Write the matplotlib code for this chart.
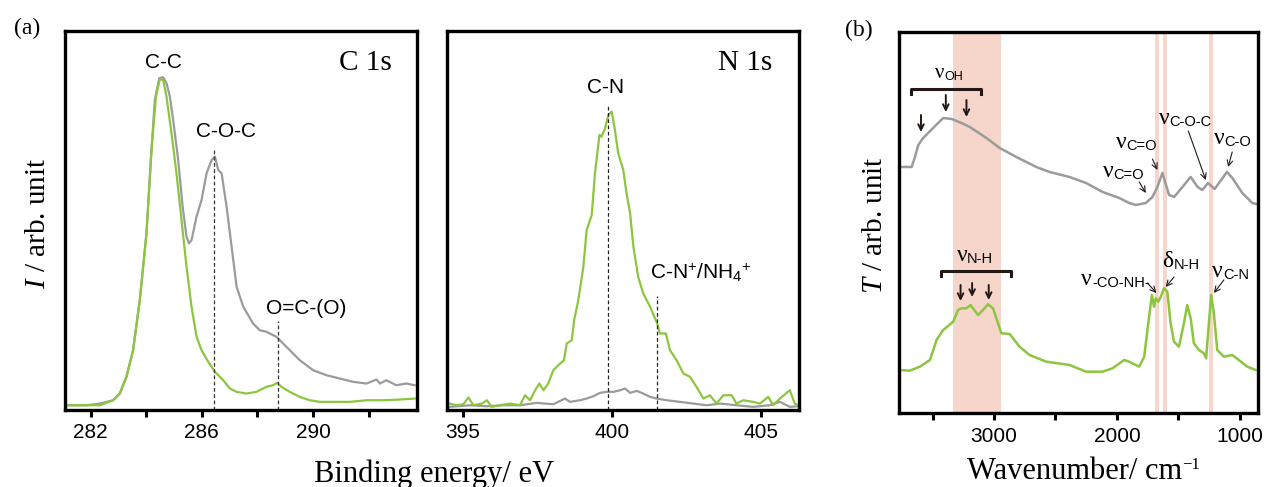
import matplotlib
matplotlib.use('Agg')
from matplotlib import pyplot as plt

plt.rcParams['font.family'] = ['Liberation Sans', 'DejaVu Sans']
plt.rcParams['mathtext.fontset'] = 'custom'
plt.rcParams['mathtext.rm'] = 'Liberation Serif'
plt.rcParams['mathtext.it'] = 'Liberation Serif:italic'
plt.rcParams['mathtext.sf'] = 'Liberation Sans'

GREEN = '#8cc63f'
GRAY = '#9b9b9b'
BAND = '#f6d6ca'
SERIF = 'Liberation Serif'

# ---- C 1s XPS (binding energy, arbitrary intensity) ----
c1s_ev_gray = [281.20, 281.86, 282.34, 282.81, 283.05, 283.29, 283.53, 283.77, 284.01, 284.19,
               284.31, 284.47, 284.61, 284.73, 284.85, 284.97, 285.15, 285.31, 285.45, 285.54,
               285.63, 285.81, 285.99, 286.17, 286.35, 286.47, 286.59, 286.71, 286.89, 287.07,
               287.25, 287.49, 287.84, 288.08, 288.32, 288.68, 289.04, 289.52, 290.00, 290.48,
               290.96, 291.44, 291.92, 292.28, 292.40, 292.63, 292.99, 293.35, 293.65]
c1s_int_gray = [4.3, 4.3, 6.0, 9.3, 16.0, 32.7, 59.3, 109.3, 176.0, 259.3,
                309.3, 331.0, 332.0, 326.0, 312.7, 289.3, 249.3, 202.7, 172.7, 166.0,
                169.3, 192.7, 209.3, 236.0, 249.3, 252.7, 239.3, 236.0, 202.7, 162.7,
                122.7, 102.7, 86.0, 79.3, 77.7, 72.7, 62.7, 49.3, 39.3, 34.3,
                31.0, 27.7, 26.0, 30.0, 26.0, 29.3, 24.3, 26.0, 24.3]
c1s_ev_green = [281.20, 282.34, 282.81, 283.05, 283.29, 283.53, 283.77, 284.01, 284.19, 284.35,
                284.49, 284.61, 284.73, 284.91, 285.09, 285.27, 285.45, 285.63, 285.81, 285.99,
                286.23, 286.47, 286.77, 287.01, 287.25, 287.60, 287.96, 288.32, 288.56, 288.71,
                288.86, 289.16, 289.52, 289.88, 290.24, 290.72, 291.32, 291.92, 292.51, 293.11,
                293.65]
c1s_int_green = [4.3, 4.3, 9.3, 16.0, 32.7, 59.3, 109.3, 176.0, 259.3, 312.7,
                 330.0, 329.3, 312.7, 276.0, 236.0, 189.3, 142.7, 102.7, 72.7, 59.3,
                 47.7, 37.7, 29.3, 21.0, 17.7, 16.0, 17.7, 22.7, 24.3, 26.7,
                 22.7, 17.7, 12.7, 9.3, 7.7, 7.7, 7.7, 9.3, 9.3, 10.0,
                 11.0]

# ---- N 1s XPS ----
n1s_ev_green = [394.55, 394.80, 395.02, 395.19, 395.36, 395.64, 395.81, 395.97, 396.25, 396.59,
                396.92, 397.09, 397.26, 397.43, 397.57, 397.71, 397.87, 398.04, 398.27, 398.40,
                398.49, 398.66, 398.74, 398.88, 399.05, 399.16, 399.33, 399.44, 399.59, 399.66,
                399.78, 399.89, 400.00, 400.11, 400.22, 400.39, 400.50, 400.62, 400.73, 400.89,
                401.06, 401.29, 401.53, 401.62, 401.82, 401.96, 402.18, 402.41, 402.63, 402.85,
                403.08, 403.30, 403.52, 403.75, 404.03, 404.19, 404.42, 404.75, 404.98, 405.26,
                405.42, 405.65, 405.98, 406.15, 406.26]
n1s_int_green = [6.0, 4.3, 5.3, 12.0, 4.3, 6.0, 9.3, 2.7, 4.3, 6.0,
                 4.3, 14.3, 9.3, 19.3, 26.0, 19.3, 26.0, 39.3, 46.0, 49.3,
                 66.0, 69.3, 89.3, 109.3, 142.7, 179.3, 194.3, 236.0, 274.3, 272.7,
                 281.0, 294.3, 297.7, 279.3, 256.0, 239.3, 216.0, 196.0, 162.7, 132.7,
                 116.0, 102.7, 86.0, 76.0, 76.0, 59.3, 49.3, 36.0, 32.7, 22.7,
                 11.0, 14.3, 6.0, 14.3, 14.3, 6.0, 9.3, 7.7, 6.0, 12.7,
                 4.3, 11.0, 19.3, 6.0, 4.3]
n1s_ev_gray = [394.55, 395.25, 395.81, 396.36, 396.92, 397.48, 398.04, 398.43, 398.60, 398.94,
               399.16, 399.38, 399.61, 399.83, 400.06, 400.28, 400.45, 400.62, 400.84, 401.06,
               401.29, 401.51, 401.85, 402.29, 402.74, 403.19, 403.64, 404.19, 404.75, 405.31,
               405.65, 405.98, 406.26]
n1s_int_gray = [2.7, 4.3, 3.3, 4.3, 4.3, 6.7, 5.3, 11.0, 7.7, 9.3,
                11.0, 13.3, 16.7, 17.7, 17.7, 19.3, 21.0, 16.7, 18.7, 16.0,
                12.7, 11.0, 9.3, 7.7, 6.0, 4.3, 6.0, 4.3, 2.7, 4.3,
                7.7, 2.7, 3.3]

# ---- FTIR ----
ir_wn_gray = [3765, 3670, 3643, 3616, 3576, 3495, 3413, 3345, 3264, 3197,
              3062, 2954, 2818, 2656, 2548, 2386, 2251, 2116, 1981, 1900,
              1846, 1765, 1711, 1671, 1630, 1576, 1535, 1494, 1440, 1400,
              1343, 1305, 1259, 1205, 1105, 1061, 980, 899, 863]
ir_t_gray = [246, 246, 256, 268, 275, 285, 295, 294, 290, 286,
             275, 265, 256, 246, 241, 236, 230, 221, 215, 210,
             208, 210, 216, 226, 240, 218, 216, 222, 230, 236,
             226, 223, 230, 224, 241, 235, 220, 210, 209]
ir_wn_green = [3765, 3684, 3603, 3521, 3467, 3413, 3332, 3292, 3264, 3224,
               3191, 3130, 3089, 3049, 3008, 2940, 2873, 2792, 2711, 2575,
               2386, 2251, 2116, 2036, 1941, 1900, 1819, 1778, 1738, 1716,
               1698, 1684, 1663, 1643, 1617, 1590, 1563, 1536, 1495, 1455,
               1428, 1400, 1374, 1333, 1293, 1274, 1252, 1233, 1211, 1184,
               1130, 1062, 1008, 940, 872]
ir_t_green = [43, 42.3, 46.3, 53, 73, 83, 91.3, 103, 104.7, 104.7,
              108, 98, 103, 108.7, 104.7, 79.7, 79, 66.3, 58, 51.3,
              48, 41.3, 41.3, 44.7, 53, 51.3, 46.3, 56.3, 96.3, 118,
              106.3, 114.7, 111.3, 116.3, 124.7, 121.3, 89.7, 71.3, 66.3, 89.7,
              108, 94.7, 69.7, 63, 59.7, 54.7, 89.7, 118, 99.7, 63,
              56.3, 58, 53, 46.3, 43]
ir_bands = [(3332, 2940), (1690, 1657), (1625, 1592), (1252, 1219)]


def style_axis(ax, xlim, ylim, ticks, labels):
    ax.set_xlim(*xlim)
    ax.set_ylim(*ylim)
    ax.set_yticks([])
    ax.set_xticks(ticks)
    ax.set_xticklabels(labels)
    for s in ax.spines.values():
        s.set_linewidth(2.4)
    ax.tick_params(axis='x', direction='out', length=5, width=2.2, labelsize=15, pad=5)


# serif nu / delta followed by a sans subscript
def nu_label(ax, x, y, sym, sub, size=17, subsize=10.5):
    t = ax.text(x, y, sym, fontsize=size, family=SERIF, ha='left', va='baseline')
    ax.annotate(sub, xy=(1, 0), xycoords=t, fontsize=subsize, ha='left', va='bottom')


def arrow(ax, start, end, lw=0.8):
    ax.annotate('', xy=end, xytext=start,
                arrowprops=dict(arrowstyle='->', lw=lw, color='#231815',
                                shrinkA=0, shrinkB=0, mutation_scale=10))


fig = plt.figure(figsize=(12.66, 4.87), dpi=100)

# C 1s
ax1 = fig.add_axes([0.0513, 0.159, 0.278, 0.777])
ax1.plot(c1s_ev_gray, c1s_int_gray, color=GRAY, lw=1.6)
ax1.plot(c1s_ev_green, c1s_int_green, color=GREEN, lw=1.6)
ax1.plot([286.42, 286.42], [0, 261], ls=(0, (3, 2)), color='#333333', lw=0.9)
ax1.plot([288.72, 288.72], [0, 88], ls=(0, (3, 2)), color='#333333', lw=0.9)
ax1.text(284.61, 347, 'C-C', fontsize=15, ha='center', va='center')
ax1.text(286.86, 278, 'C-O-C', fontsize=15, ha='center', va='center')
ax1.text(289.74, 101, 'O=C-(O)', fontsize=15, ha='center', va='center')
ax1.text(291.89, 346, 'C 1s', fontsize=21, family=SERIF, ha='center', va='center')
style_axis(ax1, (281.08, 293.73), (0, 378), [282, 284, 286, 288, 290, 292],
           ['282', '', '286', '', '290', ''])

# N 1s
ax2 = fig.add_axes([0.3533, 0.159, 0.2778, 0.777])
ax2.plot(n1s_ev_gray, n1s_int_gray, color=GRAY, lw=1.6)
ax2.plot(n1s_ev_green, n1s_int_green, color=GREEN, lw=1.6)
ax2.plot([399.87, 399.87], [0, 303], ls=(0, (3, 2)), color='#222222', lw=0.9)
ax2.plot([401.53, 401.53], [0, 113], ls=(0, (3, 2)), color='#222222', lw=0.9)
ax2.text(399.81, 322, 'C-N', fontsize=15, ha='center', va='center')
ax2.text(403.0, 137, 'C-N$^{\\mathsf{+}}$/NH$_{\\mathsf{4}}$$^{\\mathsf{+}}$', fontsize=15,
         ha='center', va='center')
ax2.text(404.47, 346, 'N 1s', fontsize=21, family=SERIF, ha='center', va='center')
style_axis(ax2, (394.48, 406.29), (0, 378), [395, 400, 405], ['395', '400', '405'])

# FTIR
ax3 = fig.add_axes([0.7101, 0.152, 0.2836, 0.7823])
for hi, lo in ir_bands:
    ax3.axvspan(lo, hi, color=BAND, lw=0, zorder=0)
ax3.plot(ir_wn_gray, ir_t_gray, color=GRAY, lw=1.8)
ax3.plot(ir_wn_green, ir_t_green, color=GREEN, lw=1.8)
style_axis(ax3, (3773, 852), (0, 381), [3500, 3000, 2500, 2000, 1500, 1000],
           ['', '3000', '', '2000', '', '1000'])

# brackets and arrows
ax3.plot([3678, 3678, 3102, 3102], [319, 324, 324, 319], color='#231815', lw=2.2)
ax3.plot([3435, 3435, 2865, 2865], [137, 142, 142, 137], color='#231815', lw=2.2)
for x, y0, y1 in [(3594, 298, 281), (3392, 318, 301), (3224, 313, 296),
                  (3272, 128, 112), (3178, 130, 116), (3043, 128, 113)]:
    arrow(ax3, (x, y0), (x, y1), lw=1.4)

nu_label(ax3, 3481, 335, 'ν', 'OH', size=15, subsize=9)
nu_label(ax3, 2008, 265, 'ν', 'C=O')
nu_label(ax3, 2116, 236, 'ν', 'C=O')
nu_label(ax3, 1657, 289, 'ν', 'C-O-C')
nu_label(ax3, 1211, 269, 'ν', 'C-O')
nu_label(ax3, 3305, 152, 'ν', 'N-H')
nu_label(ax3, 2290, 128, 'ν', '-CO-NH-')
nu_label(ax3, 1630, 146, 'δ', 'N-H')
nu_label(ax3, 1225, 136, 'ν', 'C-N')

arrow(ax3, (1711, 254), (1671, 243))
arrow(ax3, (1819, 231), (1765, 220))
arrow(ax3, (1419, 282), (1277, 233))
arrow(ax3, (1062, 261), (1095, 246))
arrow(ax3, (1752, 130), (1679, 120))
arrow(ax3, (1535, 136), (1603, 126))
arrow(ax3, (1130, 133), (1211, 120))

# axis labels
fig.text(0.343, 0.011, 'Binding energy/ eV', fontsize=22, family=SERIF, ha='center', va='baseline')
wl = fig.text(0.849, 0.016, 'Wavenumber/ cm', fontsize=22, family=SERIF, ha='center', va='baseline')
ax3.annotate('\u22121', xy=(1, 1), xycoords=wl, fontsize=12, family=SERIF,
             ha='left', va='top', annotation_clip=False)
fig.text(0.030, 0.542, '$I$ / arb. unit', fontsize=21, family=SERIF, rotation=90,
         ha='center', va='center')
fig.text(0.691, 0.538, '$T$ / arb. unit', fontsize=21, family=SERIF, rotation=90,
         ha='center', va='center')
fig.text(0.0213, 0.9425, '(a)', fontsize=17, family=SERIF, ha='center', va='center')
fig.text(0.678, 0.938, '(b)', fontsize=17, family=SERIF, ha='center', va='center')

fig.savefig('out.png', dpi=100)
